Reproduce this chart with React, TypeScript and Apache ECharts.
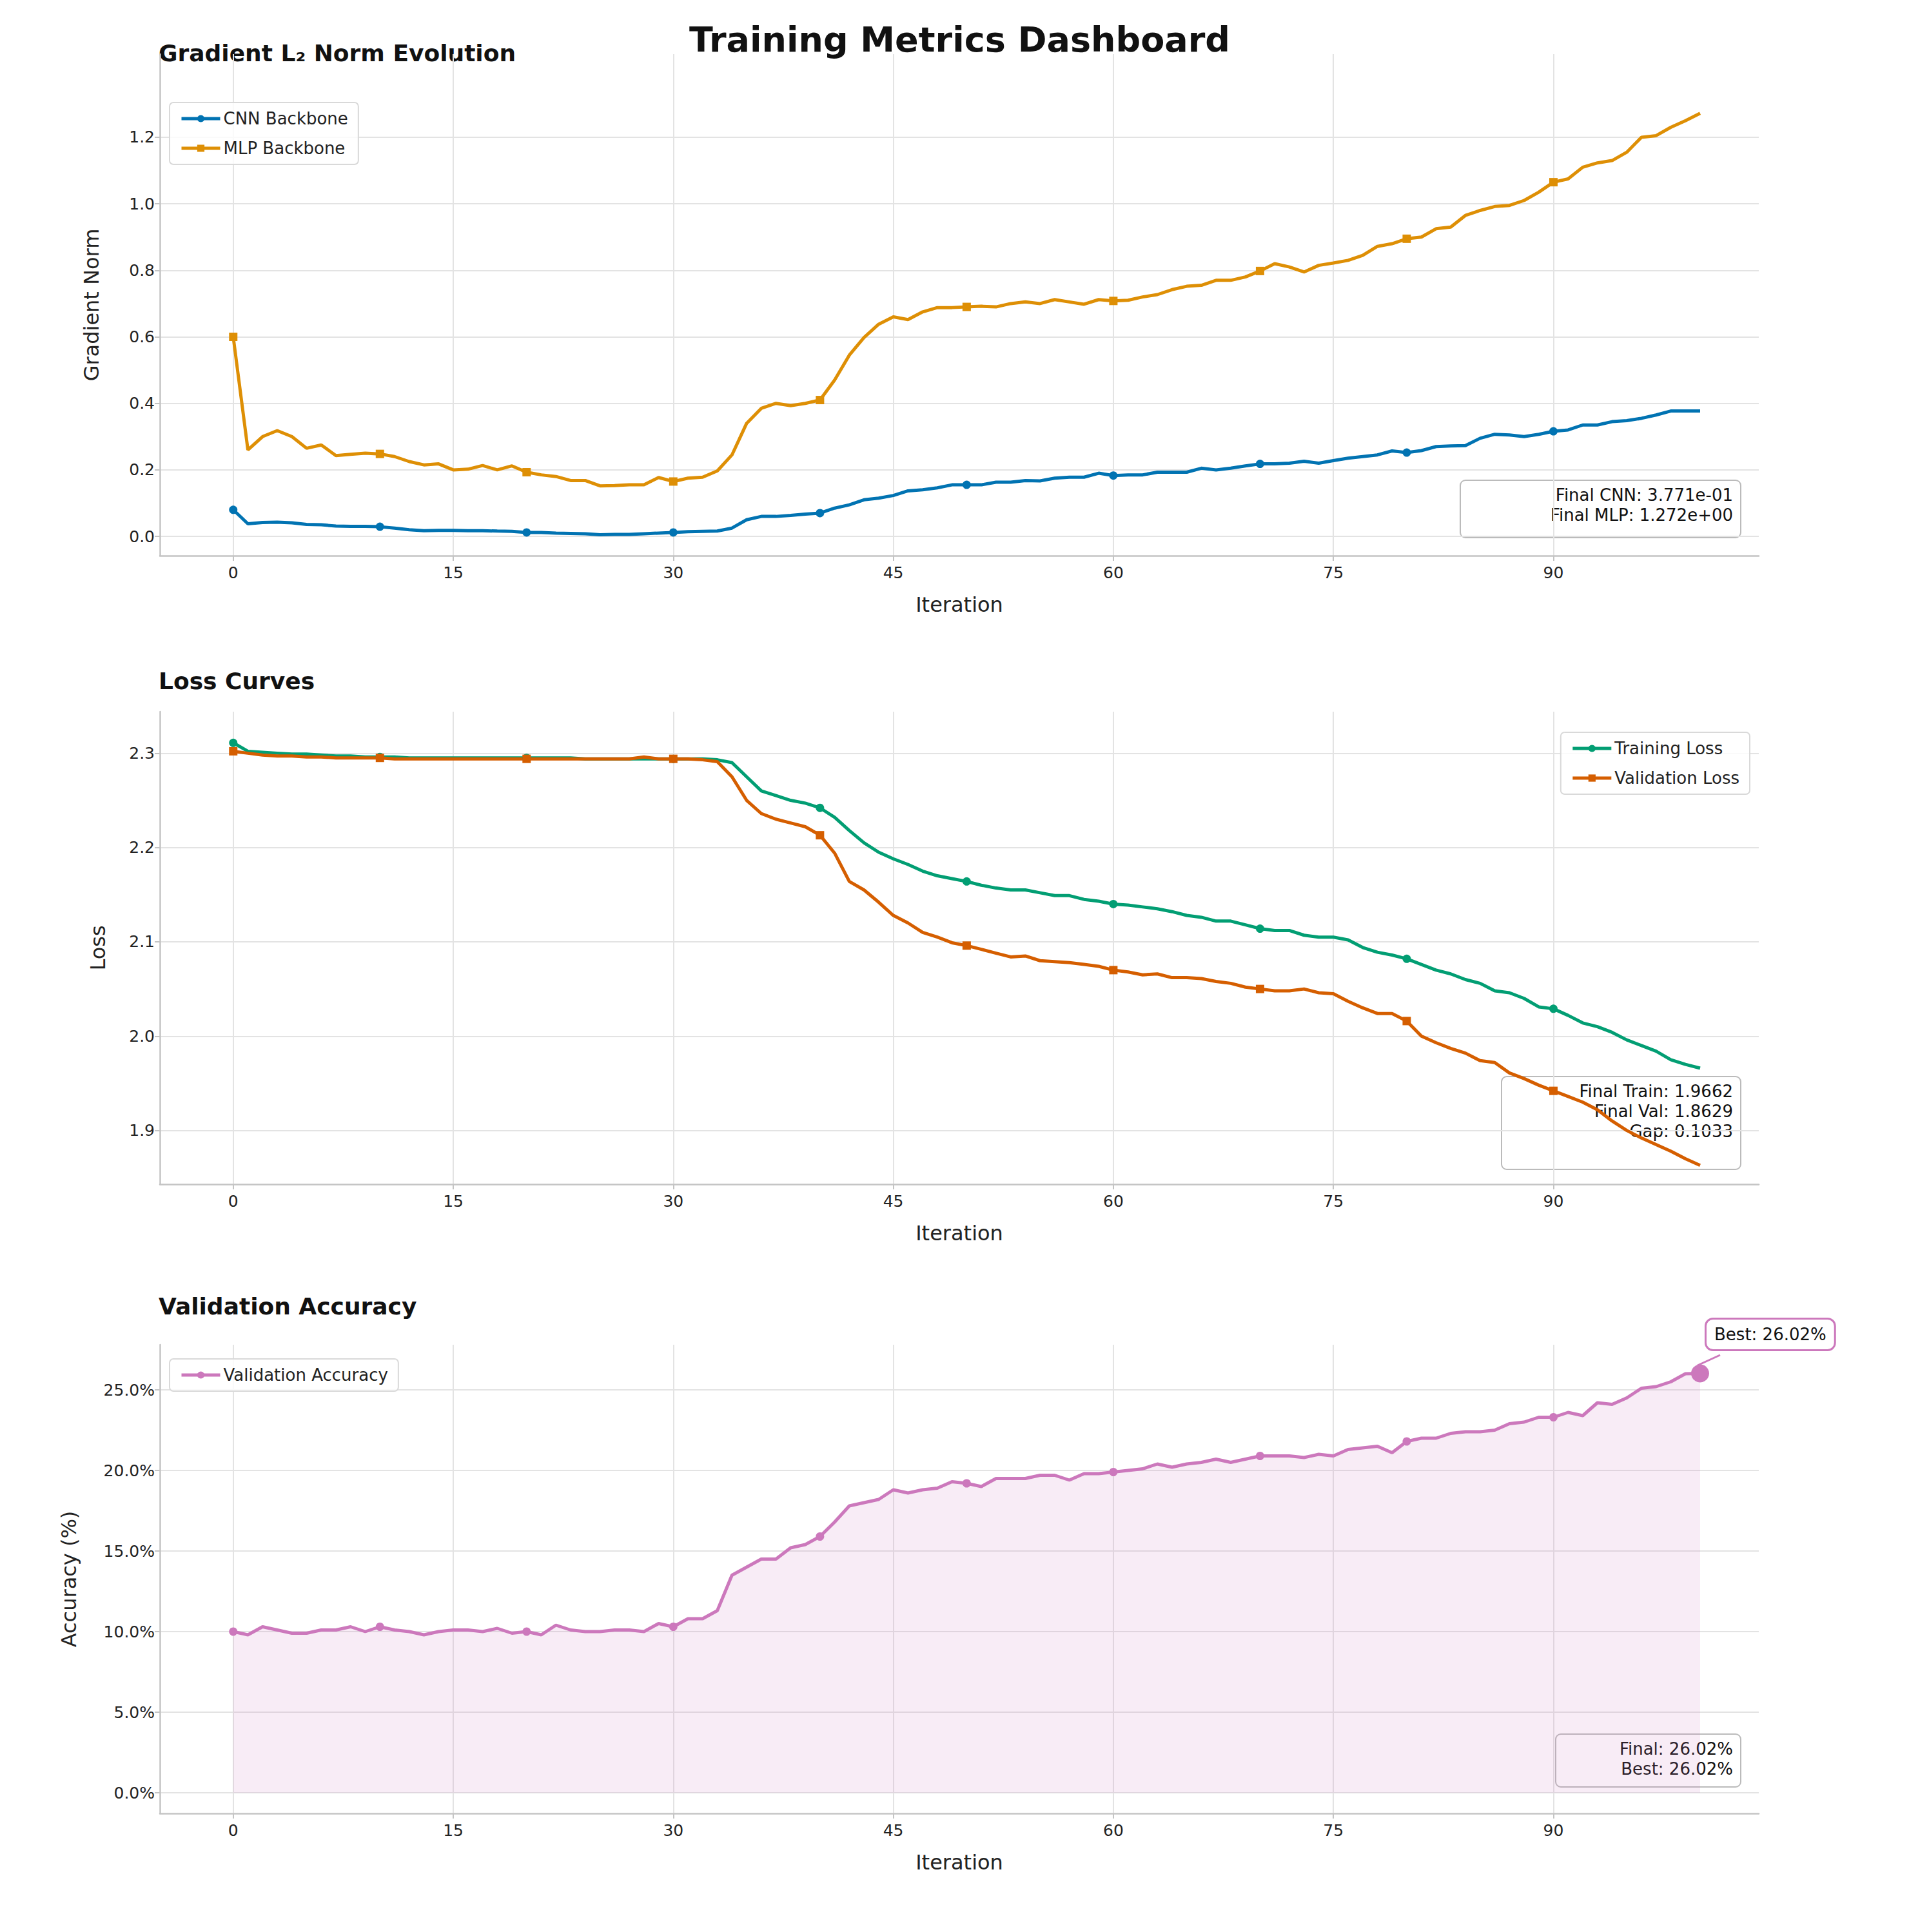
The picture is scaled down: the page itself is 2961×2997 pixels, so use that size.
import * as echarts from "echarts";
import { useEffect, useRef } from "react";

const iterations = Array.from({ length: 101 }, (_, i) => i);

const cnnNorm = [
  0.08, 0.038, 0.042, 0.043, 0.041, 0.036, 0.035, 0.031, 0.03, 0.03, 0.029, 0.025, 0.02, 0.017, 0.018, 0.018,
  0.017, 0.017, 0.016, 0.015, 0.012, 0.012, 0.01, 0.009, 0.008, 0.005, 0.006, 0.006, 0.008, 0.01, 0.012, 0.014,
  0.015, 0.016, 0.025, 0.05, 0.06, 0.06, 0.063, 0.067, 0.07, 0.085, 0.095, 0.11, 0.115, 0.123, 0.137, 0.14, 0.146,
  0.155, 0.155, 0.155, 0.163, 0.163, 0.168, 0.167, 0.175, 0.178, 0.178, 0.19, 0.183, 0.185, 0.185, 0.193, 0.193,
  0.193, 0.205, 0.2, 0.205, 0.212, 0.218, 0.218, 0.22, 0.226, 0.22, 0.228, 0.235, 0.24, 0.245, 0.257, 0.252, 0.258,
  0.27, 0.272, 0.273, 0.295, 0.307, 0.305, 0.3, 0.307, 0.316, 0.32, 0.335, 0.335, 0.345, 0.348, 0.355, 0.365, 0.377,
  0.377, 0.377,
];
const mlpNorm = [
  0.6, 0.26, 0.3, 0.318, 0.3, 0.265, 0.275, 0.243, 0.247, 0.25, 0.248, 0.24, 0.225, 0.215, 0.218, 0.2, 0.202, 0.213,
  0.2, 0.212, 0.193, 0.185, 0.18, 0.168, 0.168, 0.152, 0.153, 0.155, 0.155, 0.177, 0.165, 0.175, 0.178, 0.197, 0.245,
  0.34, 0.385, 0.4, 0.393, 0.4, 0.41, 0.47, 0.545, 0.598, 0.638, 0.66, 0.652, 0.675, 0.688, 0.688, 0.69, 0.692, 0.69,
  0.7, 0.705, 0.7, 0.712, 0.705, 0.698, 0.712, 0.708, 0.71, 0.72, 0.727, 0.742, 0.752, 0.755, 0.77, 0.77, 0.78, 0.798,
  0.82, 0.81, 0.795, 0.815, 0.822, 0.83, 0.845, 0.872, 0.88, 0.895, 0.9, 0.925, 0.93, 0.965, 0.98, 0.992, 0.995, 1.01,
  1.035, 1.065, 1.075, 1.11, 1.123, 1.13, 1.155, 1.2, 1.205, 1.23, 1.25, 1.272,
];
const trainLoss = [
  2.311, 2.302, 2.301, 2.3, 2.299, 2.299, 2.298, 2.297, 2.297, 2.296, 2.296, 2.296, 2.295, 2.295, 2.295, 2.295, 2.295,
  2.295, 2.295, 2.295, 2.295, 2.295, 2.295, 2.295, 2.294, 2.294, 2.294, 2.294, 2.294, 2.294, 2.294, 2.294, 2.294,
  2.293, 2.29, 2.275, 2.26, 2.255, 2.25, 2.247, 2.242, 2.232, 2.218, 2.205, 2.195, 2.188, 2.182, 2.175, 2.17, 2.167,
  2.164, 2.16, 2.157, 2.155, 2.155, 2.152, 2.149, 2.149, 2.145, 2.143, 2.14, 2.139, 2.137, 2.135, 2.132, 2.128, 2.126,
  2.122, 2.122, 2.118, 2.114, 2.112, 2.112, 2.107, 2.105, 2.105, 2.102, 2.094, 2.089, 2.086, 2.082, 2.076, 2.07,
  2.066, 2.06, 2.056, 2.048, 2.046, 2.04, 2.031, 2.029, 2.022, 2.014, 2.01, 2.004, 1.996, 1.99, 1.984, 1.975, 1.97,
  1.966,
];
const valLoss = [
  2.302, 2.3, 2.298, 2.297, 2.297, 2.296, 2.296, 2.295, 2.295, 2.295, 2.295, 2.294, 2.294, 2.294, 2.294, 2.294, 2.294,
  2.294, 2.294, 2.294, 2.294, 2.294, 2.294, 2.294, 2.294, 2.294, 2.294, 2.294, 2.296, 2.294, 2.294, 2.294, 2.293,
  2.291, 2.275, 2.25, 2.236, 2.23, 2.226, 2.222, 2.213, 2.194, 2.164, 2.155, 2.142, 2.128, 2.12, 2.11, 2.105, 2.099,
  2.096, 2.092, 2.088, 2.084, 2.085, 2.08, 2.079, 2.078, 2.076, 2.074, 2.07, 2.068, 2.065, 2.066, 2.062, 2.062, 2.061,
  2.058, 2.056, 2.052, 2.05, 2.048, 2.048, 2.05, 2.046, 2.045, 2.037, 2.03, 2.024, 2.024, 2.016, 2.0, 1.993, 1.987,
  1.982, 1.974, 1.972, 1.961, 1.955, 1.948, 1.942, 1.936, 1.93, 1.922, 1.91, 1.9, 1.892, 1.885, 1.878, 1.87, 1.863,
];
const valAcc = [
  10.0, 9.8, 10.3, 10.1, 9.9, 9.9, 10.1, 10.1, 10.3, 10.0, 10.3, 10.1, 10.0, 9.8, 10.0, 10.1, 10.1, 10.0, 10.2, 9.9,
  10.0, 9.8, 10.4, 10.1, 10.0, 10.0, 10.1, 10.1, 10.0, 10.5, 10.3, 10.8, 10.8, 11.3, 13.5, 14.0, 14.5, 14.5, 15.2,
  15.4, 15.9, 16.8, 17.8, 18.0, 18.2, 18.8, 18.6, 18.8, 18.9, 19.3, 19.2, 19.0, 19.5, 19.5, 19.5, 19.7, 19.7, 19.4,
  19.8, 19.8, 19.9, 20.0, 20.1, 20.4, 20.2, 20.4, 20.5, 20.7, 20.5, 20.7, 20.9, 20.9, 20.9, 20.8, 21.0, 20.9, 21.3,
  21.4, 21.5, 21.1, 21.8, 22.0, 22.0, 22.3, 22.4, 22.4, 22.5, 22.9, 23.0, 23.3, 23.3, 23.6, 23.4, 24.2, 24.1, 24.5,
  25.1, 25.2, 25.5, 26.0, 26.02,
];
const xTicks = [0, 15, 30, 45, 60, 75, 90];

const FONT = "DejaVu Sans";
const GRID_COLOR = "#e3e3e3";
const SPINE = "#c4c4c4";

const pairs = (ys: number[]) => iterations.map((x, i) => [x, ys[i]]);

const App: React.FC = () => {
  const chartRef = useRef<HTMLDivElement>(null);

  useEffect(() => {
    const chart = echarts.init(chartRef.current!, null, { renderer: "svg" });

    const grids = [
      { left: 240, right: 241, top: 76, height: 778 },
      { left: 240, right: 241, top: 1096, height: 733 },
      { left: 240, right: 241, top: 2078, height: 727 },
    ];

    const xAxis = grids.map((_, i) => ({
      type: "value",
      gridIndex: i,
      min: -5,
      max: 104,
      name: "Iteration",
      nameLocation: "middle",
      nameGap: 60,
      nameTextStyle: { fontFamily: FONT, fontSize: 32, color: "#222" },
      axisLine: { show: true, onZero: false, lineStyle: { color: SPINE, width: 2.5 } },
      axisTick: { show: true, customValues: xTicks, length: 8, lineStyle: { color: SPINE, width: 2 } },
      axisLabel: { customValues: xTicks, fontFamily: FONT, fontSize: 25, color: "#222", margin: 14 },
      splitLine: { show: true, lineStyle: { color: GRID_COLOR, width: 2 } },
    }));

    const yBase = {
      type: "value",
      nameLocation: "middle",
      nameTextStyle: { fontFamily: FONT, fontSize: 32, color: "#222" },
      axisLine: { show: true, onZero: false, lineStyle: { color: SPINE, width: 2.5 } },
      axisTick: { show: true, length: 8, lineStyle: { color: SPINE, width: 2 } },
      splitLine: { show: true, lineStyle: { color: GRID_COLOR, width: 2 } },
    };
    const yAxis = [
      {
        ...yBase, gridIndex: 0, min: -0.058, max: 1.45, name: "Gradient Norm", nameGap: 90,
        axisTick: { ...yBase.axisTick, customValues: [0, 0.2, 0.4, 0.6, 0.8, 1.0, 1.2] },
        axisLabel: { customValues: [0, 0.2, 0.4, 0.6, 0.8, 1.0, 1.2], formatter: (v: number) => v.toFixed(1), fontFamily: FONT, fontSize: 25, color: "#222" },
      },
      {
        ...yBase, gridIndex: 1, min: 1.843, max: 2.344, name: "Loss", nameGap: 80,
        axisTick: { ...yBase.axisTick, customValues: [1.9, 2.0, 2.1, 2.2, 2.3] },
        axisLabel: { customValues: [1.9, 2.0, 2.1, 2.2, 2.3], formatter: (v: number) => v.toFixed(1), fontFamily: FONT, fontSize: 25, color: "#222" },
      },
      {
        ...yBase, gridIndex: 2, min: -1.28, max: 27.8, name: "Accuracy (%)", nameGap: 125,
        axisTick: { ...yBase.axisTick, customValues: [0, 5, 10, 15, 20, 25] },
        axisLabel: { customValues: [0, 5, 10, 15, 20, 25], formatter: (v: number) => v.toFixed(1) + "%", fontFamily: FONT, fontSize: 25, color: "#222" },
      },
    ];

    const mkLine = (name: string, data: number[], color: string, idx: number, symbol: string, extra: any = {}) => ({
      name,
      type: "line",
      xAxisIndex: idx,
      yAxisIndex: idx,
      data: pairs(data),
      symbol,
      showSymbol: true,
      symbolSize: (_v: any, p: any) => (p && p.dataIndex % 10 === 0 && p.dataIndex < 100 ? 13 : 0),
      lineStyle: { color, width: 5 },
      itemStyle: { color },
      ...extra,
    });

    const legendText = { fontFamily: FONT, fontSize: 26, color: "#222" };
    const legendBox = {
      backgroundColor: "rgba(255,255,255,0.8)",
      borderColor: "#d9d9d9",
      borderWidth: 2,
      borderRadius: 6,
      padding: [12, 16],
      itemWidth: 60,
      itemHeight: 14,
      itemGap: 20,
      orient: "vertical",
      lineStyle: { width: 5 },
      textStyle: legendText,
    };

    // annotation box: rect + right-aligned text
    const box = (text: string, x1: number, y1: number, x2: number, y2: number) => ({
      type: "group",
      children: [
        {
          type: "rect",
          shape: { x: x1, y: y1, width: x2 - x1, height: y2 - y1, r: 8 },
          style: { fill: "rgba(255,255,255,0.85)", stroke: "#bbb", lineWidth: 2 },
        },
        {
          type: "text",
          x: x2 - 12,
          y: y1 + 7,
          style: {
            text, fontFamily: FONT, fontSize: 26, lineHeight: 31, fill: "#111",
            align: "right", verticalAlign: "top",
          },
        },
      ],
    });

    const titleStyle = { fontFamily: FONT, fontSize: 36, fontWeight: "bold", fill: "#111" };

    const option = {
      animation: false,
      backgroundColor: "#fff",
      grid: grids,
      xAxis,
      yAxis,
      legend: [
        { ...legendBox, left: 255, top: 151, data: ["CNN Backbone", "MLP Backbone"] },
        { ...legendBox, right: 2961 - 2706, top: 1128, data: ["Training Loss", "Validation Loss"] },
        { ...legendBox, left: 255, top: 2100, data: ["Validation Accuracy"] },
      ],
      series: [
        mkLine("CNN Backbone", cnnNorm, "#0173b2", 0, "circle"),
        mkLine("MLP Backbone", mlpNorm, "#de8f05", 0, "rect"),
        mkLine("Training Loss", trainLoss, "#029e73", 1, "circle"),
        mkLine("Validation Loss", valLoss, "#d55e00", 1, "rect"),
        mkLine("Validation Accuracy", valAcc, "#cc78bc", 2, "circle", {
          areaStyle: { color: "rgba(204,120,188,0.2)" },
          markPoint: {
            symbol: "circle",
            symbolSize: 28,
            label: { show: false },
            itemStyle: { color: "#cc78bc" },
            data: [{ coord: [100, 26.02] }],
          },
        }),
      ],
      graphic: [
        { type: "text", left: "center", top: 26, style: { text: "Training Metrics Dashboard", fontFamily: FONT, fontSize: 54, fontWeight: "bold", fill: "#111" } },
        { type: "text", left: 238, top: 56, style: { text: "Gradient L₂ Norm Evolution", ...titleStyle } },
        { type: "text", left: 238, top: 1030, style: { text: "Loss Curves", ...titleStyle } },
        { type: "text", left: 238, top: 2000, style: { text: "Validation Accuracy", ...titleStyle } },
        box("Final CNN: 3.771e-01\nFinal MLP: 1.272e+00", 2257, 737, 2692, 826),
        box("Final Train: 1.9662\nFinal Val: 1.8629\nGap: 0.1033", 2321, 1662, 2692, 1806),
        box("Final: 26.02%\nBest: 26.02%", 2405, 2682, 2692, 2764),
        {
          type: "text", left: 2636, top: 2036,
          style: {
            text: "Best: 26.02%", fontFamily: FONT, fontSize: 26, fill: "#111",
            backgroundColor: "#fff", borderColor: "#cc78bc", borderWidth: 3, borderRadius: 10, padding: [10, 12],
          },
        },
        { type: "line", shape: { x1: 2625, y1: 2110, x2: 2660, y2: 2094 }, style: { stroke: "#cc78bc", lineWidth: 3 } },
      ],
    };

    chart.setOption(option as any);
    return () => chart.dispose();
  }, []);

  return <div ref={chartRef} style={{ width: 2961, height: 2997 }} />;
};

export default App;
